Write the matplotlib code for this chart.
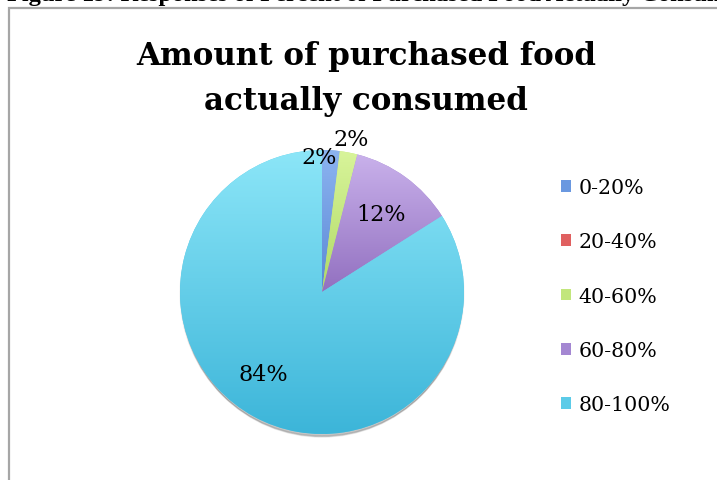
import matplotlib.pyplot as plt
import numpy as np
from matplotlib.patches import Rectangle, Patch, Circle
from matplotlib.colors import LinearSegmentedColormap

categories = ['0-20%', '20-40%', '40-60%', '60-80%', '80-100%']
shares = [2, 0, 2, 12, 84]
title = 'Amount of purchased food\nactually consumed'
caption = 'Figure 19: Responses of Percent of Purchased Food Actually Consumed'

# light top / darker bottom for each slice
tops = ['#8cb4f0', '#ee7b7b', '#d8f49a', '#c9b1eb', '#8ce6f8']
bottoms = ['#5a88d6', '#d24c4c', '#b0da66', '#9270c0', '#3cb5d9']
legend_cols = ['#6a98e0', '#e06060', '#c2e67c', '#a487d2', '#5ccbe8']
# radial distance of each percent label
label_r = [0.95, 0, 1.10, 0.69, 0.71]
label_dang = [5, 0, 0, -1, -7]

W, H = 717, 481
fig = plt.figure(figsize=(W / 100, H / 100), dpi=100)

# outer frame of the chart area
fig.patches.append(Rectangle((8.5 / W, -0.1), 1.2, (H - 8.5) / H + 0.1, transform=fig.transFigure,
                             fill=False, edgecolor='#a6a6a6', linewidth=1.6))
fig.text(7 / W, 1 - 1 / H, caption, ha='left', va='baseline', fontsize=17.6,
         fontweight='bold', family='Liberation Serif', color='black')

fig.text(366 / W, 1 - 79 / H, title, ha='center', va='center', fontsize=22.3,
         fontweight='bold', family='DejaVu Serif', linespacing=1.62)

cx, cy, R = 322, 293, 142
ax = fig.add_axes([(cx - R) / W, (H - cy - R) / H, 2 * R / W, 2 * R / H])

# soft shadow under the pie
for k in range(6):
    ax.add_patch(Circle((0, -0.012 - 0.006 * k), 1.0 - 0.004 * k, color='black',
                        alpha=0.04, zorder=0, clip_on=False))

wedges, _ = ax.pie(shares, startangle=90, counterclock=False, radius=1.0,
                   colors=legend_cols, wedgeprops=dict(linewidth=0))
ax.set_xlim(-1, 1)
ax.set_ylim(-1, 1)
ax.axis('off')

# vertical gradient across each slice's own height
grad = np.linspace(0, 1, 256).reshape(-1, 1)
for w, c0, c1 in zip(wedges, tops, bottoms):
    if w.theta2 - w.theta1 <= 0:
        continue
    bb = w.get_path().get_extents(w.get_patch_transform())
    cmap = LinearSegmentedColormap.from_list('g', [c1, c0])
    im = ax.imshow(grad, cmap=cmap, extent=[-1, 1, bb.y0, bb.y1], origin='lower',
                   aspect='auto', zorder=2)
    im.set_clip_path(w)
ax.set_xlim(-1, 1)
ax.set_ylim(-1, 1)

for w, v, r, da in zip(wedges, shares, label_r, label_dang):
    if v == 0:
        continue
    ang = np.deg2rad((w.theta1 + w.theta2) / 2 + da)
    ax.text(r * np.cos(ang), r * np.sin(ang), f'{v}%', ha='center', va='center',
            fontsize=16, family='DejaVu Serif', zorder=5, clip_on=False)

handles = [Patch(facecolor=c, edgecolor='none') for c in legend_cols]
fig.legend(handles, categories, loc='upper left', bbox_to_anchor=(561 / W, 1 - 179 / H),
           frameon=False, prop=dict(family='DejaVu Serif', size=14.8),
           borderpad=0, borderaxespad=0,
           handlelength=0.5, handleheight=0.5, handletextpad=0.35, labelspacing=1.72)

fig.savefig('out.png', dpi=100)
